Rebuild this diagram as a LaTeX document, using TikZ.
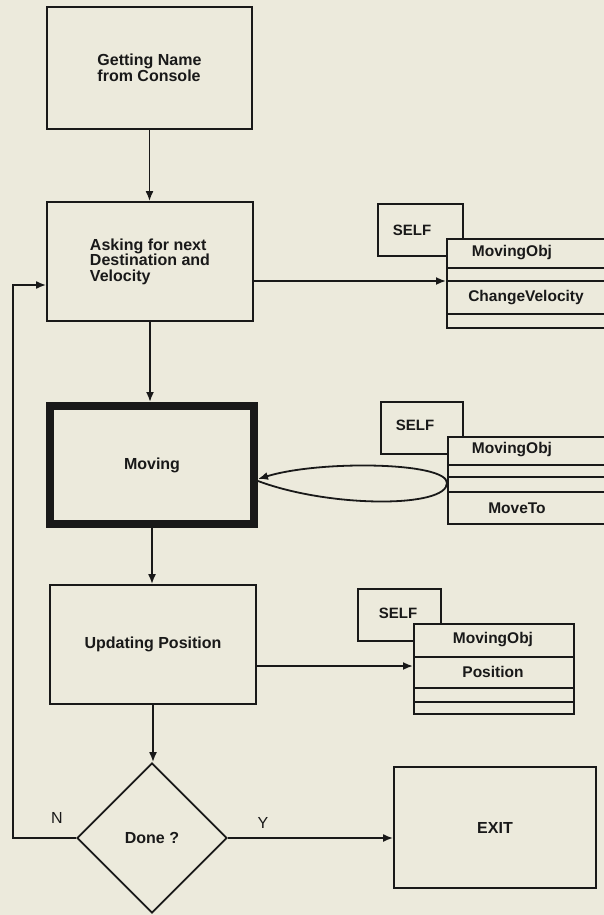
\documentclass[tikz,border=0pt]{standalone}
\usepackage{fontspec}
\setmainfont{Liberation Sans}
\usetikzlibrary{arrows.meta,shapes.geometric}
\definecolor{bgc}{RGB}{236,234,220}
\definecolor{ink}{RGB}{25,25,25}
\tikzset{
  proc/.style={draw=ink, line width=1.8pt, rectangle, inner sep=0pt,
    font=\fontsize{16}{15.5}\selectfont\bfseries, text=ink},
  selfbox/.style={draw=ink, line width=1.8pt, rectangle, inner sep=0pt, anchor=north west},
  classbox/.style={draw=ink, fill=bgc, line width=1.8pt, rectangle, inner sep=0pt, anchor=north west},
  arr/.style={draw=ink, line width=1.8pt, -{Latex[length=10pt,width=8pt]}},
  ln/.style={draw=ink, line width=1.8pt},
  ctext/.style={font=\fontsize{15.5}{15}\selectfont\bfseries, text=ink, inner sep=0pt},
  stext/.style={font=\fontsize{15}{15}\selectfont\bfseries, text=ink, inner sep=0pt},
  lbl/.style={font=\fontsize{16}{16}\selectfont, text=ink, inner sep=0pt},
}
\begin{document}
\begin{tikzpicture}[x=1pt,y=-1pt]
\clip (0,0) rectangle (604,915);
\fill[bgc] (0,0) rectangle (604,915);

% main flow boxes
\node[proc, minimum width=205pt, minimum height=122pt, align=left] (b1) at (149.5,68) {Getting Name\\from Console};
\node[proc, minimum width=206pt, minimum height=119pt, align=left] (b2) at (150,261.5) {Asking for next\\Destination and\\Velocity};
\node[proc, line width=8pt, minimum width=204pt, minimum height=118pt] (b3) at (152,465) {Moving};
\node[proc, minimum width=206pt, minimum height=119pt] (b4) at (153,644.5) {Updating Position};
\node[proc, shape=diamond, aspect=1, minimum width=150pt, minimum height=150pt] (dia) at (152,838) {Done ?};
\node[proc, minimum width=202pt, minimum height=121pt] (exit) at (495,827.5) {EXIT};

% object 1
\node[selfbox, minimum width=85pt, minimum height=52pt] (s1) at (377,203) {};
\node[stext] (s1t) at (412,230) {SELF};
\node[classbox, minimum width=164pt, minimum height=89pt] (c1) at (446,238) {};
\draw[ln] (446,268) -- (610,268);
\draw[ln] (446,281) -- (610,281);
\draw[ln] (446,314) -- (610,314);
\node[ctext] (c1a) at (512,253) {MovingObj};
\node[ctext] (c1b) at (526,298) {ChangeVelocity};
\coordinate (c1in) at (446,281);

% object 2
\node[selfbox, minimum width=82pt, minimum height=52pt] (s2) at (380,401) {};
\node[stext] (s2t) at (415,425) {SELF};
\node[classbox, minimum width=163pt, minimum height=87pt] (c2) at (447,436) {};
\draw[ln] (447,465) -- (610,465);
\draw[ln] (447,477) -- (610,477);
\draw[ln] (447,492) -- (610,492);
\node[ctext] (c2a) at (512,450) {MovingObj};
\node[ctext] (c2b) at (517,508) {MoveTo};
\coordinate (c2in) at (447,483);

% object 3
\node[selfbox, minimum width=83pt, minimum height=52pt] (s3) at (357,588) {};
\node[stext] (s3t) at (398,613) {SELF};
\node[classbox, minimum width=160pt, minimum height=90pt] (c3) at (413,623) {};
\draw[ln] (413,657) -- (573,657);
\draw[ln] (413,688) -- (573,688);
\draw[ln] (413,702) -- (573,702);
\node[ctext] (c3a) at (493,640) {MovingObj};
\node[ctext] (c3b) at (493,672) {Position};
\coordinate (c3in) at (413,666);

% connectors
\draw[arr] (b1.south) -- (b1.south |- b2.north);
\draw[arr] (b2.east |- c1in) -- (c1in);
\draw[arr] (b2.south) -- (b2.south |- b3.north);
\draw[arr] (b3.south) -- (b3.south |- b4.north);
\draw[arr] (b4.east |- c3in) -- (c3in);
\draw[arr] (b4.south) -- (b4.south |- dia.north);
\draw[arr] (dia.east) -- (dia.east -| exit.west);
\coordinate (lp1) at (13,838);
\coordinate (lp2) at (13,285);
\draw[arr] (dia.west) -- (lp1) -- (lp2) -- (b2.west |- lp2);
\draw[arr] (b3.east |- 0,481) .. controls (330,508) and (447,508) .. (c2in)
  .. controls (447,462) and (320,460) .. (b3.east |- 0,479);

% labels
\node[lbl] (nl) at (57,818) {N};
\node[lbl] (yl) at (263,823) {Y};
\end{tikzpicture}
\end{document}
